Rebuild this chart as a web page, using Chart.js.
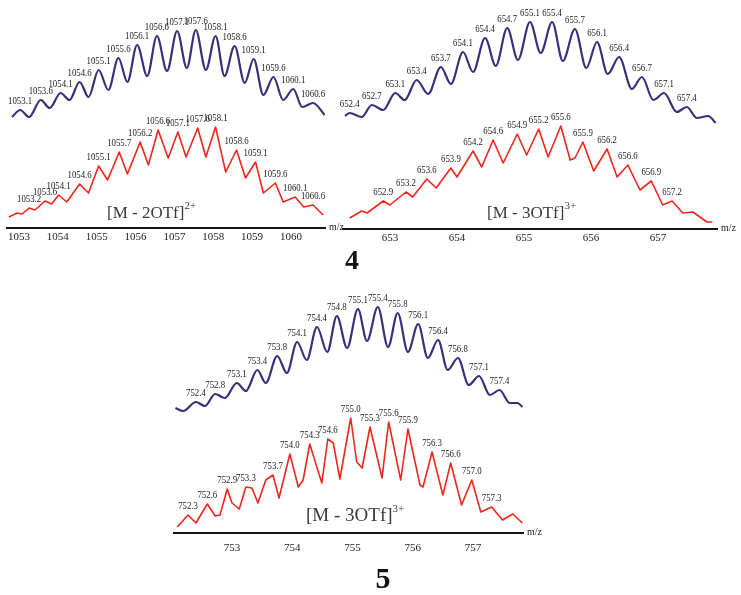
<!DOCTYPE html>
<html>
<head>
<meta charset="utf-8">
<script src="https://cdn.jsdelivr.net/npm/chart.js@4.4.1/dist/chart.umd.min.js"></script>
<style>
  body { margin: 0; background: #fff; width: 741px; height: 595px; position: relative; overflow: hidden; font-family: "Liberation Serif", serif; }
  canvas { position: absolute; }
  .ion { position: absolute; color: #3a3a3a; white-space: nowrap; line-height: 1; }
  .ion sup { font-size: 11px; position: relative; top: -2px; }
  .num { position: absolute; font-weight: bold; text-align: center; width: 40px; line-height: 1; color: #111; }
</style>
</head>
<body>
<canvas id="c4a" width="344" height="248" style="left:5px;top:0px"></canvas>
<canvas id="c4b" width="418" height="249" style="left:323px;top:0px"></canvas>
<canvas id="c5" width="374" height="273" style="left:173px;top:280px"></canvas>

<div class="ion" style="left:107px;top:202px;font-size:17px">[M - 2OTf]<sup>2+</sup></div>
<div class="ion" style="left:487px;top:202px;font-size:17px">[M - 3OTf]<sup>3+</sup></div>
<div class="ion" style="left:306px;top:505px;font-size:19px">[M - 3OTf]<sup>3+</sup></div>
<div class="num" style="left:332px;top:246px;font-size:28px">4</div>
<div class="num" style="left:363px;top:563px;font-size:30px">5</div>

<script>
// eixo x (m/z) de cada painel
const ticks4a = [1053, 1054, 1055, 1056, 1057, 1058, 1059, 1060];
const ticks4b = [653, 654, 655, 656, 657];
const ticks5 = [753, 754, 755, 756, 757];

// composto 4, [M - 2OTf]2+ : simulado (roxo)
const sim4aMz = [1052.82, 1053.03, 1053.26, 1053.56, 1053.79, 1054.07, 1054.30, 1054.56, 1054.79, 1055.05,
  1055.30, 1055.56, 1055.79, 1056.04, 1056.30, 1056.55, 1056.81, 1057.07, 1057.32, 1057.55, 1057.81,
  1058.06, 1058.29, 1058.55, 1058.81, 1059.04, 1059.29, 1059.55, 1059.80, 1060.06, 1060.29, 1060.57, 1060.87];
const sim4aInt = [3, 10, 3, 20, 12, 27, 20, 38, 23, 50, 30, 62, 38, 75, 44, 84, 49, 89, 52, 90, 50,
  84, 44, 74, 37, 61, 25, 43, 20, 31, 13, 17, 5];
const sim4aLabels = ['1053.1', '1053.6', '1054.1', '1054.6', '1055.1', '1055.6', '1056.1', '1056.6',
  '1057.1', '1057.6', '1058.1', '1058.6', '1059.1', '1059.6', '1060.1', '1060.6'];

// composto 4, [M - 2OTf]2+ : experimental (vermelho)
const exp4aMz = [1052.74, 1052.95, 1053.08, 1053.26, 1053.41, 1053.67, 1053.84, 1054.02, 1054.23, 1054.56,
  1054.79, 1055.05, 1055.28, 1055.58, 1055.79, 1056.12, 1056.33, 1056.58, 1056.84, 1057.09, 1057.30,
  1057.60, 1057.81, 1058.06, 1058.32, 1058.60, 1058.83, 1059.09, 1059.29, 1059.60, 1059.80, 1060.11,
  1060.33, 1060.57, 1060.83];
const exp4aInt = [11, 15, 14, 20, 18, 27, 24, 33, 26, 44, 35, 62, 48, 76, 54, 86, 63, 98, 70, 96, 71,
  100, 71, 101, 56, 78, 50, 66, 35, 45, 26, 31, 21, 23, 13];
const exp4aLabels = ['1053.2', '1053.6', '1054.1', '1054.6', '1055.1', '1055.7', '1056.2', '1056.6',
  '1057.1', '1057.6', '1058.1', '1058.6', '1059.1', '1059.6', '1060.1', '1060.6'];

// composto 4, [M - 3OTf]3+ : simulado
const sim4bMz = [652.33, 652.40, 652.58, 652.73, 652.90, 653.08, 653.22, 653.40, 653.57, 653.76, 653.91,
  654.09, 654.24, 654.42, 654.58, 654.75, 654.91, 655.09, 655.25, 655.42, 655.58, 655.76, 655.93,
  656.09, 656.25, 656.42, 656.61, 656.76, 656.93, 657.09, 657.28, 657.43, 657.58, 657.75, 657.86];
const sim4bInt = [9, 12, 8, 20, 15, 32, 25, 45, 31, 58, 41, 73, 53, 87, 59, 97, 65, 103, 72, 103, 64,
  96, 57, 83, 51, 68, 36, 48, 25, 32, 13, 18, 7, 9, 2];
const sim4bLabels = ['652.4', '652.7', '653.1', '653.4', '653.7', '654.1', '654.4', '654.7', '655.1',
  '655.4', '655.7', '656.1', '656.4', '656.7', '657.1', '657.4'];

// composto 4, [M - 3OTf]3+ : experimental
const exp4bMz = [652.40, 652.58, 652.66, 652.90, 653.00, 653.24, 653.34, 653.55, 653.69, 653.91, 654.00,
  654.24, 654.37, 654.54, 654.69, 654.90, 655.04, 655.22, 655.36, 655.55, 655.69, 655.76, 655.88,
  656.04, 656.24, 656.39, 656.55, 656.73, 656.90, 657.07, 657.21, 657.37, 657.52, 657.73, 657.81];
const exp4bInt = [11, 18, 16, 28, 24, 37, 32, 50, 41, 61, 52, 78, 62, 89, 66, 95, 74, 100, 72, 103, 69,
  71, 87, 58, 80, 52, 64, 39, 48, 24, 28, 16, 17, 7, 7];
const exp4bLabels = ['652.9', '653.2', '653.6', '653.9', '654.2', '654.6', '654.9', '655.2', '655.6',
  '655.9', '656.2', '656.6', '656.9', '657.2'];

// composto 5, [M - 3OTf]3+ : simulado
const sim5Mz = [752.06, 752.19, 752.40, 752.55, 752.72, 752.88, 753.08, 753.23, 753.42, 753.56, 753.75,
  753.91, 754.08, 754.24, 754.41, 754.58, 754.74, 754.91, 755.09, 755.24, 755.42, 755.59, 755.75,
  755.92, 756.09, 756.25, 756.42, 756.58, 756.75, 756.93, 757.10, 757.28, 757.44, 757.61, 757.74, 757.82];
const sim5Int = [4, 1, 10, 6, 18, 14, 29, 21, 42, 29, 56, 39, 70, 52, 85, 60, 96, 64, 103, 71, 105, 65,
  99, 60, 88, 54, 72, 42, 54, 27, 36, 17, 22, 9, 9, 5];
const sim5Labels = ['752.4', '752.8', '753.1', '753.4', '753.8', '754.1', '754.4', '754.8', '755.1',
  '755.4', '755.8', '756.1', '756.4', '756.8', '757.1', '757.4'];

// composto 5, [M - 3OTf]3+ : experimental
const exp5Mz = [752.09, 752.27, 752.40, 752.59, 752.72, 752.80, 752.92, 753.00, 753.12, 753.23, 753.33,
  753.43, 753.56, 753.68, 753.78, 753.96, 754.10, 754.18, 754.29, 754.49, 754.59, 754.68, 754.79,
  754.97, 755.07, 755.16, 755.29, 755.49, 755.60, 755.80, 755.92, 756.12, 756.17, 756.32, 756.50,
  756.63, 756.81, 756.98, 757.13, 757.31, 757.49, 757.66, 757.82];
const exp5Int = [6, 18, 10, 29, 17, 18, 44, 30, 24, 46, 45, 30, 53, 58, 35, 79, 46, 53, 89, 50, 94, 90,
  54, 115, 71, 65, 106, 55, 111, 53, 104, 48, 46, 81, 38, 70, 28, 53, 21, 26, 13, 19, 10];
const exp5Labels = ['752.3', '752.6', '752.9', '753.3', '753.7', '754.0', '754.3', '754.6', '755.0',
  '755.3', '755.6', '755.9', '756.3', '756.6', '757.0', '757.3'];

const corRoxo = '#3b2f7c';
const corVermelho = '#f0251c';

// acha o máximo local mais próximo do valor do rótulo
function picoMaisProximo(xs, ys, v) {
  let melhor = -1, dist = Infinity;
  for (let i = 1; i < xs.length - 1; i++) {
    if (ys[i] > ys[i - 1] && ys[i] >= ys[i + 1]) {
      const d = Math.abs(xs[i] - v);
      if (d < dist) { dist = d; melhor = i; }
    }
  }
  return melhor;
}

// plugin que escreve os rótulos dos picos e o "m/z"
const rotulosPlugin = {
  id: 'rotulos',
  afterDatasetsDraw(chart) {
    const ctx = chart.ctx;
    ctx.save();
    ctx.fillStyle = '#222';
    ctx.font = '11px "Liberation Serif"';
    ctx.textAlign = 'center';
    ctx.textBaseline = 'bottom';
    chart.data.datasets.forEach((ds, di) => {
      const pts = chart.getDatasetMeta(di).data;
      ds.picos.forEach(lbl => {
        const i = picoMaisProximo(ds.mz, ds.int, parseFloat(lbl));
        if (i < 0) return;
        ctx.save();
        ctx.translate(pts[i].x, pts[i].y - 3);
        ctx.scale(0.8, 1);
        ctx.fillText(lbl, 0, 0);
        ctx.restore();
      });
    });
    const area = chart.chartArea;
    ctx.font = '10px "Liberation Serif"';
    ctx.textAlign = 'left';
    ctx.textBaseline = 'middle';
    ctx.fillText('m/z', area.right + 4, area.bottom - 1);
    ctx.restore();
  }
};

function serie(mz, int, picos, offset, cor, largura, suave) {
  return {
    data: mz.map((x, i) => ({ x, y: int[i] + offset })),
    mz, int, picos,
    borderColor: cor,
    borderWidth: largura,
    pointRadius: 0,
    fill: false,
    tension: 0,
    cubicInterpolationMode: suave ? 'monotone' : 'default',
    borderJoinStyle: 'round'
  };
}

function painel(id, ticks, xmin, xmax, ymax, simOffset, tickPad, padLeft, sim, exp) {
  new Chart(document.getElementById(id), {
    type: 'line',
    data: {
      datasets: [
        serie(sim[0], sim[1], sim[2], simOffset, corRoxo, 2.2, true),
        serie(exp[0], exp[1], exp[2], 0, corVermelho, 1.6, false)
      ]
    },
    options: {
      responsive: false,
      animation: false,
      events: [],
      layout: { padding: { left: padLeft, right: 24, top: 0, bottom: 0 } },
      plugins: { legend: { display: false }, tooltip: { enabled: false } },
      scales: {
        x: {
          type: 'linear',
          min: xmin,
          max: xmax,
          grid: { display: false, drawTicks: false },
          border: { display: true, color: '#151515', width: 2 },
          ticks: {
            color: '#222',
            padding: tickPad,
            font: { family: 'Liberation Serif', size: 11 },
            callback: v => String(v)
          },
          afterBuildTicks: axis => { axis.ticks = ticks.map(v => ({ value: v })); },
          afterFit: axis => { axis.height = 20; }
        },
        y: { display: false, min: 0, max: ymax }
      }
    },
    plugins: [rotulosPlugin]
  });
}

painel('c4a', ticks4a, 1052.693, 1060.877, 228, 108, 3, 0,
  [sim4aMz, sim4aInt, sim4aLabels], [exp4aMz, exp4aInt, exp4aLabels]);
painel('c4b', ticks4b, 652.30, 657.88, 229, 104, 3, 20,
  [sim4bMz, sim4bInt, sim4bLabels], [exp4bMz, exp4bInt, exp4bLabels]);
painel('c5', ticks5, 752.02, 757.83, 253, 121, 9, 0,
  [sim5Mz, sim5Int, sim5Labels], [exp5Mz, exp5Int, exp5Labels]);
</script>
</body>
</html>
